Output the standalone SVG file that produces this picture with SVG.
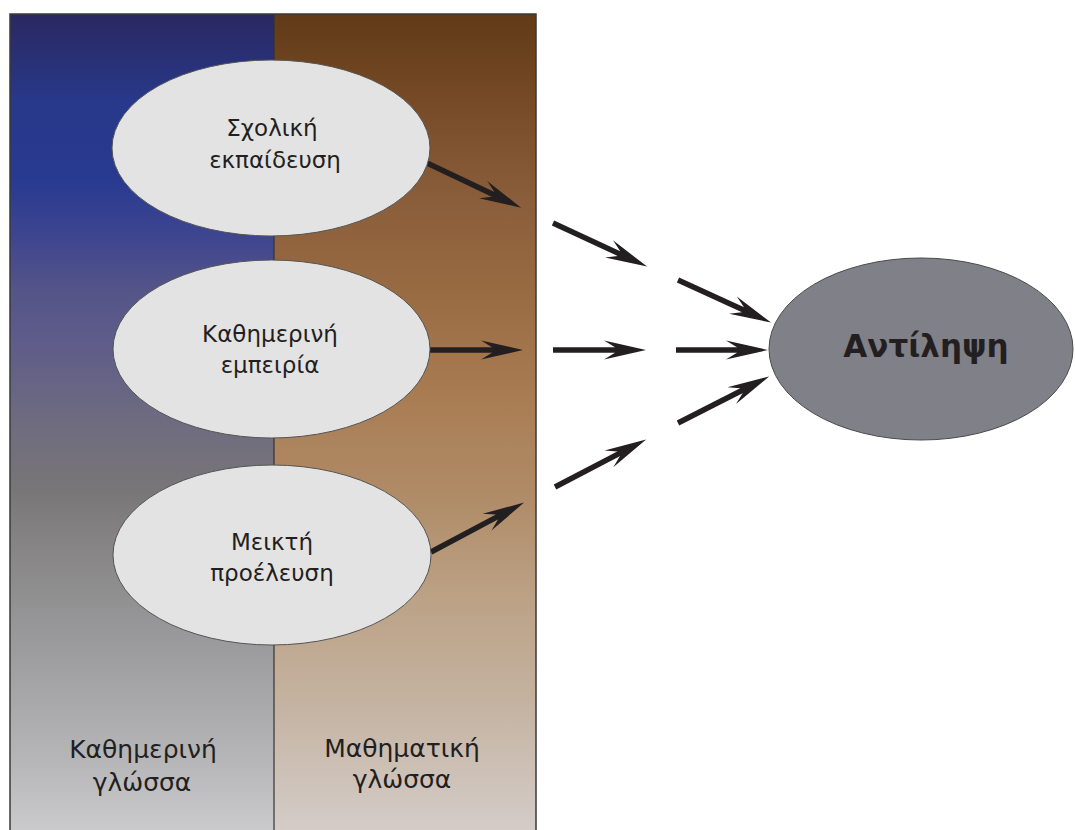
<svg xmlns="http://www.w3.org/2000/svg" width="1075" height="830" viewBox="0 0 1075 830">
  <style>
    .node-light { fill: #e3e3e3; stroke: #555555; stroke-width: 1; }
    .node-dark { fill: #808088; stroke: #4a4a4a; stroke-width: 1; }
    .label { font-family: "DejaVu Sans", "Noto Sans", sans-serif; font-size: 23px; fill: #231f20; text-anchor: middle; }
    .col-label { font-family: "DejaVu Sans", "Noto Sans", sans-serif; font-size: 25px; fill: #231f20; text-anchor: middle; }
    .title { font-family: "DejaVu Sans", "Noto Sans", sans-serif; font-size: 31px; font-weight: bold; fill: #231f20; text-anchor: middle; }
    .arrow { stroke: #231f20; stroke-width: 5.5; fill: none; marker-end: url(#head); }
    .border { stroke: #3a3a3a; stroke-width: 1.5; fill: none; }
  </style>
  <defs>
    <linearGradient id="gradLeft" gradientUnits="userSpaceOnUse" x1="0" y1="14" x2="0" y2="830">
      <stop offset="0" stop-color="#2a2860"/>
      <stop offset="0.105" stop-color="#28388a"/>
      <stop offset="0.203" stop-color="#283a90"/>
      <stop offset="0.265" stop-color="#3c4490"/>
      <stop offset="0.338" stop-color="#545488"/>
      <stop offset="0.40" stop-color="#5e5c8a"/>
      <stop offset="0.497" stop-color="#6e6b80"/>
      <stop offset="0.583" stop-color="#787677"/>
      <stop offset="0.645" stop-color="#858383"/>
      <stop offset="0.779" stop-color="#9c9c9e"/>
      <stop offset="0.914" stop-color="#b6b6b8"/>
      <stop offset="1" stop-color="#cacacc"/>
    </linearGradient>
    <linearGradient id="gradRight" gradientUnits="userSpaceOnUse" x1="0" y1="14" x2="0" y2="830">
      <stop offset="0" stop-color="#613a17"/>
      <stop offset="0.105" stop-color="#764a26"/>
      <stop offset="0.228" stop-color="#8a5e3a"/>
      <stop offset="0.350" stop-color="#9a6c44"/>
      <stop offset="0.473" stop-color="#a97d54"/>
      <stop offset="0.596" stop-color="#b08c68"/>
      <stop offset="0.718" stop-color="#bca286"/>
      <stop offset="0.841" stop-color="#c4b2a0"/>
      <stop offset="1" stop-color="#d4ccc8"/>
    </linearGradient>
    <marker id="head" markerUnits="userSpaceOnUse" viewBox="0 -11 44 22" markerWidth="44" markerHeight="22" refX="13" refY="0" orient="auto">
      <path d="M42,0 L0,-9.5 L11,-2.75 L11,2.75 L0,9.5 Z" fill="#231f20"/>
    </marker>
  </defs>

  <g id="background">
    <rect x="10" y="14" width="264" height="820" fill="url(#gradLeft)"/>
    <rect x="274" y="14" width="262" height="820" fill="url(#gradRight)"/>
    <path class="border" d="M10,834 L10,14 L536,14 L536,834"/>
    <line x1="274" y1="14" x2="274" y2="834" stroke="#333333" stroke-width="1.2"/>
  </g>

  <g id="connectors">
    <line class="arrow" x1="427" y1="163" x2="494.9" y2="195.2"/>
    <line class="arrow" x1="553" y1="223" x2="620.8" y2="254.4"/>
    <line class="arrow" x1="678" y1="280" x2="744.7" y2="310.5"/>
    <line class="arrow" x1="430" y1="350" x2="494" y2="350"/>
    <line class="arrow" x1="553" y1="350" x2="617" y2="350"/>
    <line class="arrow" x1="676" y1="350" x2="739" y2="350"/>
    <line class="arrow" x1="431" y1="552" x2="498.5" y2="516.1"/>
    <line class="arrow" x1="555" y1="487" x2="620.4" y2="452.9"/>
    <line class="arrow" x1="678" y1="423" x2="743.3" y2="389.7"/>
  </g>

  <g id="node-school">
    <ellipse class="node-light" cx="271" cy="148" rx="159" ry="88"/>
    <text class="label" x="272" y="136">Σχολική</text>
    <text class="label" x="275" y="168">εκπαίδευση</text>
  </g>

  <g id="node-everyday">
    <ellipse class="node-light" cx="271.5" cy="349" rx="158.5" ry="89"/>
    <text class="label" x="270" y="342">Καθημερινή</text>
    <text class="label" x="270" y="373">εμπειρία</text>
  </g>

  <g id="node-mixed">
    <ellipse class="node-light" cx="272" cy="555" rx="159" ry="90"/>
    <text class="label" x="272" y="550">Μεικτή</text>
    <text class="label" x="272" y="581">προέλευση</text>
  </g>

  <g id="node-perception">
    <ellipse class="node-dark" cx="921" cy="349" rx="152" ry="91"/>
    <text class="title" x="926" y="357">Αντίληψη</text>
  </g>

  <g id="label-everyday-language">
    <text class="col-label" x="143" y="758">Καθημερινή</text>
    <text class="col-label" x="142" y="791">γλώσσα</text>
  </g>

  <g id="label-math-language">
    <text class="col-label" x="402" y="757">Μαθηματική</text>
    <text class="col-label" x="402" y="788">γλώσσα</text>
  </g>
</svg>
